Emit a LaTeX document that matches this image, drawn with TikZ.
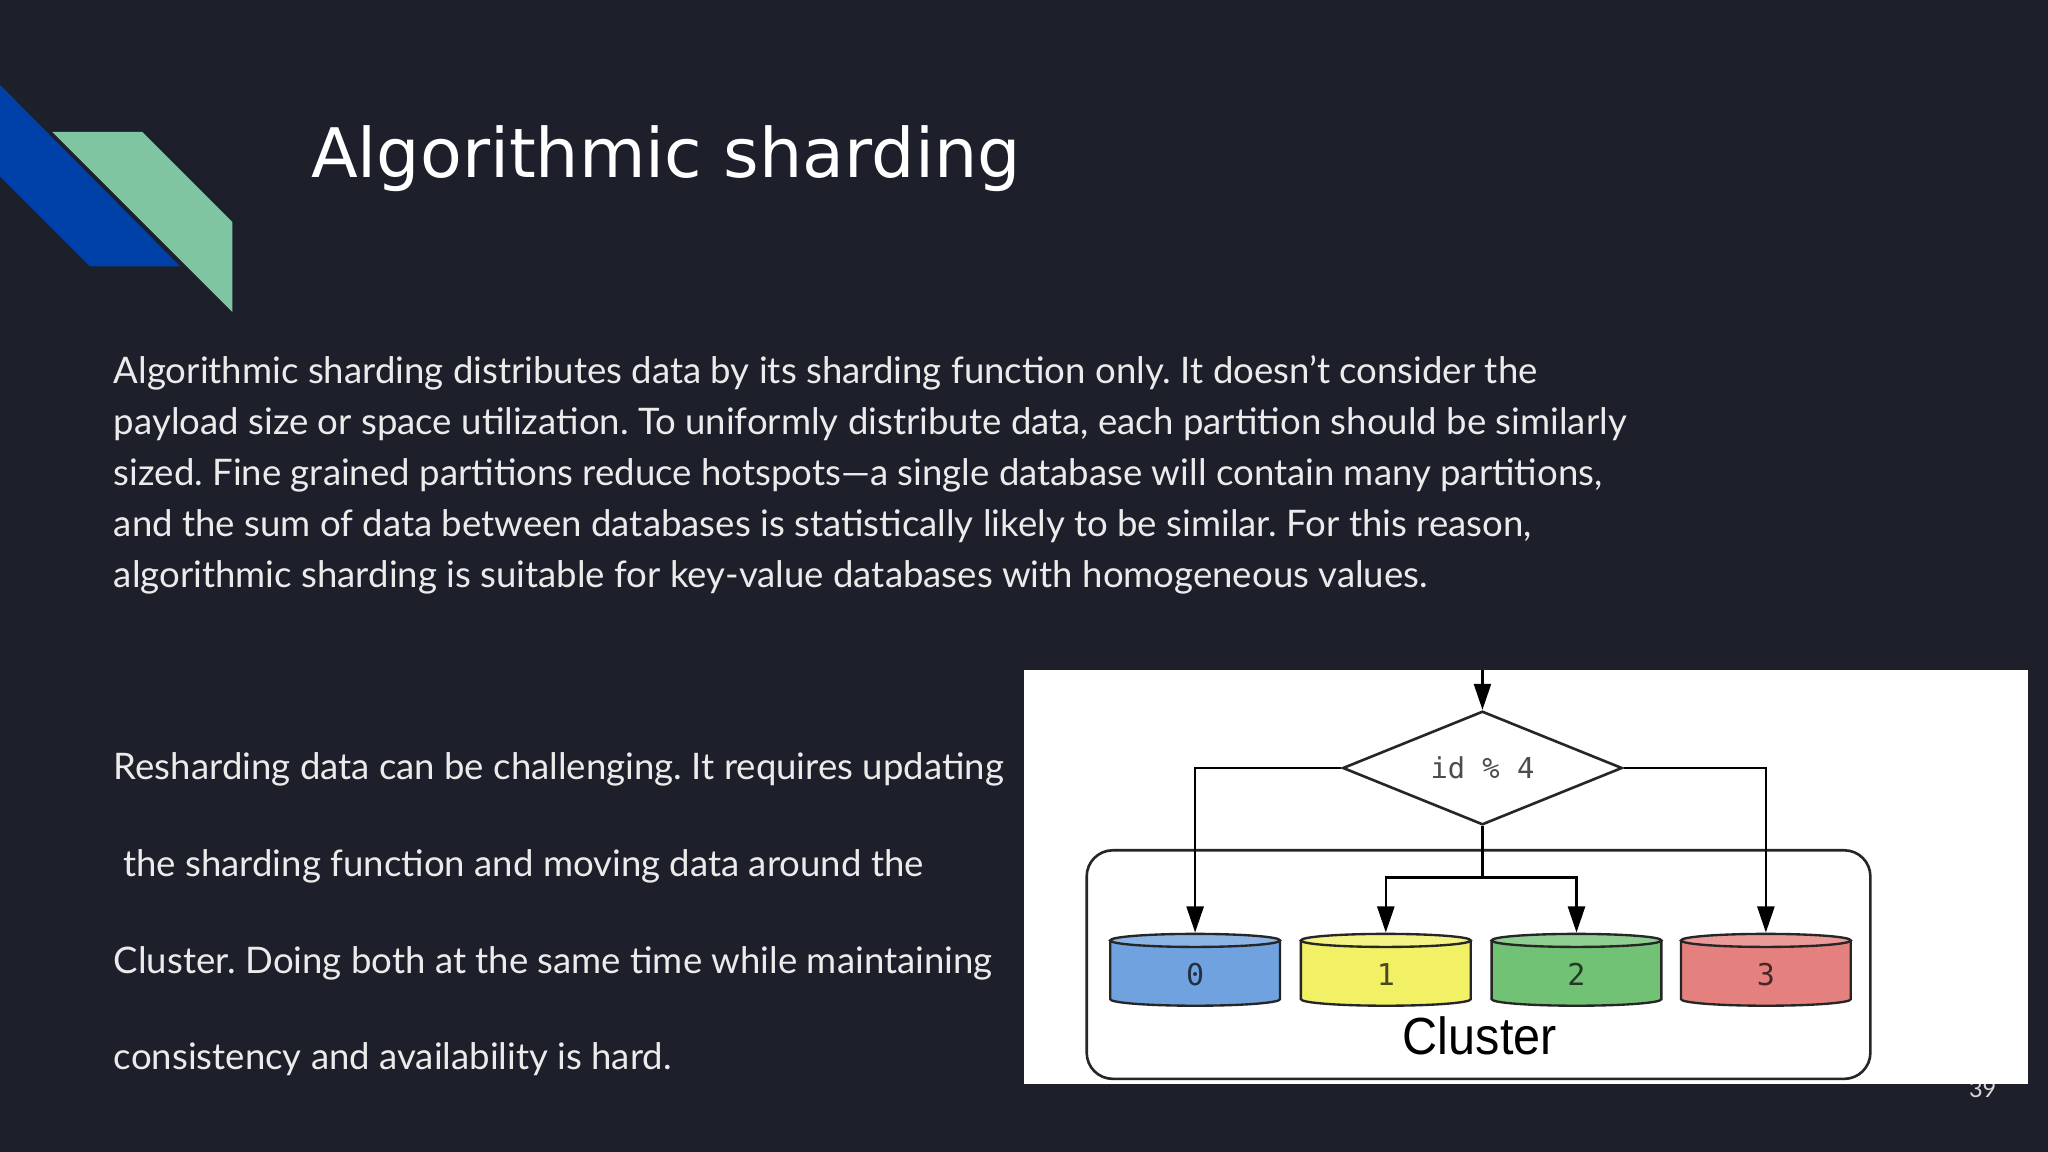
\documentclass[tikz,border=0pt]{standalone}
\usepackage{fontspec}
\setmainfont{Lato}
\newfontfamily\titlefont{DejaVu Sans}
\newfontfamily\monofont{DejaVu Sans Mono}
\newfontfamily\clusterfont{Liberation Sans}
\usetikzlibrary{shapes.geometric,arrows.meta}
\definecolor{bg}{HTML}{1D202A}
\definecolor{dblue}{HTML}{0041A8}
\definecolor{dgreen}{HTML}{80C5A2}
\definecolor{cblue}{HTML}{6FA2DE}
\definecolor{cyellow}{HTML}{F2F064}
\definecolor{cgreen}{HTML}{72C276}
\definecolor{cred}{HTML}{E4817F}
\tikzset{
  conn/.style={line width=2pt,-{Triangle[length=20pt,width=13pt]}},
  plain/.style={line width=2pt},
  body/.style={anchor=base west,inner sep=0pt,text=white!92!black,font=\fontsize{28}{39}\selectfont},
  cyl/.style={line width=1.8pt,draw=black!85},
}
\newcommand{\mycyl}[3]{% center x, name, colour
  \fill[#3] (#1-65,720) -- (#1-65,765) arc[start angle=180,end angle=0,x radius=65,y radius=5] -- (#1+65,720) -- cycle;
  \draw[cyl] (#1-65,720) -- (#1-65,765) arc[start angle=180,end angle=0,x radius=65,y radius=5] -- (#1+65,720);
  \draw[cyl,fill=#3!80!white] (#1,720) ellipse[x radius=65,y radius=5];
  \coordinate (#2) at (#1,714);
}
\begin{document}
\frenchspacing
\begin{tikzpicture}[x=1pt,y=-1pt]
\fill[bg] (0,0) rectangle (1568,882);
\useasboundingbox (0,0) rectangle (1568,882);
% decoration
\fill[dblue] (0,65) -- (138,204) -- (69,204) -- (0,135) -- cycle;
\fill[dgreen] (40,101) -- (109,101) -- (178,170) -- (178,239) -- cycle;
% title
\node[anchor=base west,inner sep=0pt,text=white,font=\titlefont\fontsize{52.3}{60}\selectfont] (title) at (238,136) {Algorithmic sharding};
% paragraph 1
\node[body] (p1) at (87,294) {Algorithmic sharding distributes data by its sharding function only. It doesn’t consider the};
\node[body] (p2) at (87,333) {payload size or space utilization. To uniformly distribute data, each partition should be similarly};
\node[body] (p3) at (87,372) {sized. Fine grained partitions reduce hotspots—a single database will contain many partitions,};
\node[body] (p4) at (87,411) {and the sum of data between databases is statistically likely to be similar. For this reason,};
\node[body] (p5) at (87,450) {algorithmic sharding is suitable for key-value databases with homogeneous values.};
% paragraph 2
\node[body] (q1) at (87,597) {Resharding data can be challenging. It requires updating};
\node[body] (q2) at (87,671) {\ the sharding function and moving data around the};
\node[body] (q3) at (87,745) {Cluster. Doing both at the same time while maintaining};
\node[body] (q4) at (87,819) {consistency and availability is hard.};
% page number
\node[anchor=base,inner sep=0pt,text=white!85!black,font=\fontsize{18}{20}\selectfont] (pg) at (1518,840) {39};
% image
\fill[white] (784,513) rectangle (1553,830);
\draw[line width=2pt,draw=black!85,rounded corners=20pt] (832,651) rectangle (1432,826);
\node[anchor=base,inner sep=0pt,font=\clusterfont\fontsize{40}{44}\selectfont] (cl) at (1133,807) {\scalebox{0.93}[1]{Cluster}};
\mycyl{915}{c0}{cblue}
\mycyl{1061}{c1}{cyellow}
\mycyl{1207}{c2}{cgreen}
\mycyl{1352}{c3}{cred}
\node[font=\monofont\fontsize{23}{24}\selectfont,text=cblue!30!black] (n0) at (915,746) {0};
\node[font=\monofont\fontsize{23}{24}\selectfont,text=cyellow!30!black] (n1) at (1061,746) {1};
\node[font=\monofont\fontsize{23}{24}\selectfont,text=cgreen!30!black] (n2) at (1207,746) {2};
\node[font=\monofont\fontsize{23}{24}\selectfont,text=cred!30!black] (n3) at (1352,746) {3};
\node[diamond,draw=black!85,line width=2pt,fill=white,minimum width=214pt,minimum height=87pt,inner sep=0pt,aspect=2.46,font=\monofont\fontsize{22}{24}\selectfont,text=black!70] (d) at (1135,588) {id \% 4};
\coordinate (in) at (1135,513);
\coordinate (mid) at (1135,672);
\draw[conn] (in) -- (d.north);
\draw[conn] (d.west) -| (c0);
\draw[conn] (d.east) -| (c3);
\draw[plain] (d.south) -- (mid);
\draw[conn] (mid) -| (c1);
\draw[conn] (mid) -| (c2);
\end{tikzpicture}
\end{document}
